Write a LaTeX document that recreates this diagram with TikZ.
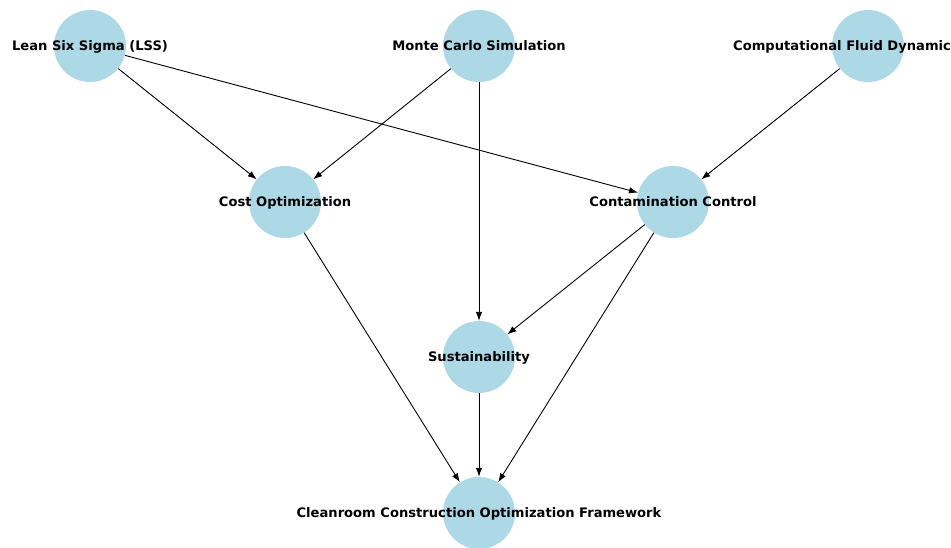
\documentclass[tikz,border=0pt]{standalone}
\usepackage{fontspec}
\setmainfont{DejaVu Sans}
\usepackage{xcolor}
\definecolor{nodeblue}{RGB}{173,216,230}
\usepackage{tikz}
\usetikzlibrary{arrows.meta}
\newcommand{\radius}{72pt}
\tikzset{
    topic/.style={circle, fill=nodeblue, minimum size=\radius, inner sep=0pt},
    topiclabel/.style={font=\fontsize{13.1}{16}\selectfont\bfseries, inner sep=0pt, anchor=base, yshift=-4.8pt},
    link/.style={-{Latex[length=9pt, width=6.5pt]}, line width=0.9pt, black}
}

\begin{document}
\begin{tikzpicture}[x=1pt, y=-1pt]
      \useasboundingbox (0,0) rectangle (951,547);

      % circles of the graph
      \node[topic] (lss) at (90,46) {};
      \node[topic] (monte-carlo) at (479,46) {};
      \node[topic] (cfd) at (868,46) {};
      \node[topic] (cost-opt) at (285,202) {};
      \node[topic] (contam) at (673,202) {};
      \node[topic] (sustain) at (479,357) {};
      \node[topic] (framework) at (479,513) {};

      \draw[link] (lss) -- (cost-opt);
      \draw[link] (lss) -- (contam);
      \draw[link] (monte-carlo) -- (cost-opt);
      \draw[link] (monte-carlo) -- (sustain);
      \draw[link] (cfd) -- (contam);
      \draw[link] (cost-opt) -- (framework);
      \draw[link] (contam) -- (sustain);
      \draw[link] (contam) -- (framework);
      \draw[link] (sustain) -- (framework);

      % labels on top of the circles and arrows
      \node[topiclabel] at (lss) {Lean Six Sigma (LSS)};
      \node[topiclabel] at (monte-carlo) {Monte Carlo Simulation};
      \node[topiclabel, anchor=base west] at ([xshift=-135pt]cfd.center) {Computational Fluid Dynamics};
      \node[topiclabel] at (cost-opt) {Cost Optimization};
      \node[topiclabel] at (contam) {Contamination Control};
      \node[topiclabel] at (sustain) {Sustainability};
      \node[topiclabel] at (framework) {Cleanroom Construction Optimization Framework};
\end{tikzpicture}
\end{document}
